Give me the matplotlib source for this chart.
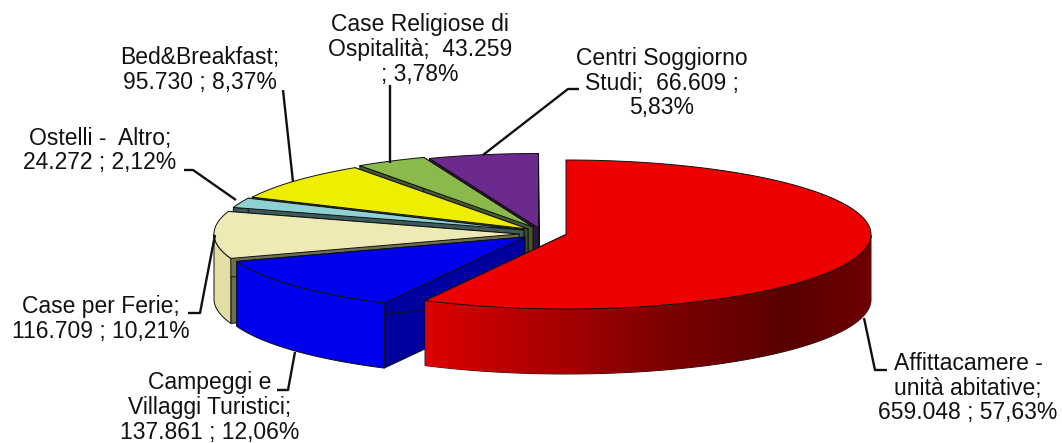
import numpy as np
import matplotlib
matplotlib.use("Agg")
import matplotlib.pyplot as plt
from matplotlib.patches import Polygon

plt.rcParams['font.family'] = ['Liberation Sans', 'DejaVu Sans']

# ---- data (clockwise from 12 o'clock) ----
categories = ["Affittacamere - unità abitative", "Campeggi e Villaggi Turistici", "Case per Ferie",
              "Ostelli - Altro", "Bed&Breakfast", "Case Religiose di Ospitalità", "Centri Soggiorno Studi"]
values = [659048, 137861, 116709, 24272, 95730, 43259, 66609]
label_texts = ["Affittacamere -\nunità abitative;\n659.048 ; 57,63%",
               "Campeggi e\nVillaggi Turistici;\n137.861 ; 12,06%",
               "Case per Ferie;\n116.709 ; 10,21%",
               "Ostelli -  Altro;\n24.272 ; 2,12%",
               "Bed&Breakfast;\n95.730 ; 8,37%",
               "Case Religiose di\nOspitalità;  43.259\n; 3,78%",
               "Centri Soggiorno\nStudi;  66.609 ;\n5,83%"]

# ---- style / layout ----
top_colors = ["#ee0000", "#0000ee", "#eeeab6", "#8fd0d2", "#eeee00", "#8cb94b", "#6c2a8e"]
side_colors = [None, "#0000ee", "#e2dea4", "#70a8aa", "#c0c000", "#70953c", "#4a1d62"]
wall_colors = ["#7a0000", "#00009e", "#6e6e50", "#3c5a5a", "#46501e", "#465a28", "#321446"]
centers = [(566, 234.5), (525, 237), (519, 234), (524, 230), (528, 229), (533, 227), (538.5, 228)]
RX, RY, DEPTH = 305, 74.5, 65
label_pos = [(968, 388), (210, 407.5), (101, 319), (100, 150.5), (200, 70), (420, 49.5), (662, 83)]
leaders = [[(864, 318), (875, 370), (887, 370)],
           [(295, 352), (288, 390), (277, 390)],
           [(215, 235), (200, 313), (188, 313)],
           [(236, 200), (193, 170), (184, 170)],
           [(293, 182), (283, 90)],
           [(390, 163), (390, 85)],
           [(483, 155), (568, 89), (579, 89)]]

fig = plt.figure(figsize=(10.62, 4.43), dpi=100)
ax = fig.add_axes([0, 0, 1, 1])
ax.set_xlim(0, 1062)
ax.set_ylim(443, 0)
ax.axis('off')

fractions = np.array(values) / np.sum(values)
edges = np.concatenate([[0], np.cumsum(fractions)]) * 2 * np.pi


def rim(c, t):
    return np.column_stack([c[0] + RX * np.sin(t), c[1] - RY * np.cos(t)])


EC = dict(edgecolor="#101010", linewidth=0.7, joinstyle='round')

# painter's order: back (purple) to front (red)
for i in [6, 5, 4, 3, 2, 1, 0]:
    c = centers[i]
    t = np.linspace(edges[i], edges[i + 1], 200)
    arc = rim(c, t)
    apex = np.array(c)
    down = np.array([0, DEPTH])
    z = 2 + (6 - i) * 0.1
    # radial walls
    for p in (arc[0], arc[-1]):
        ax.add_patch(Polygon([apex, p, p + down, apex + down], closed=True,
                             facecolor=wall_colors[i], zorder=z, **EC))
    # outer wall (lower half of the ellipse only)
    vis = (t >= np.pi / 2) & (t <= 3 * np.pi / 2)
    if vis.any():
        a = arc[vis]
        if i == 0:
            # horizontal shading on the large slice
            poly = Polygon(np.vstack([a, (a + down)[::-1]]), closed=True, facecolor='none',
                           zorder=z, **EC)
            ax.add_patch(poly)
            xs = np.linspace(a[:, 0].min(), a[:, 0].max(), 256)
            shade = np.interp(xs, [427, 500, 650, 790, 872], [222, 190, 130, 88, 110])
            img = np.zeros((1, 256, 3))
            img[0, :, 0] = shade / 255
            im = ax.imshow(img, extent=[xs[0], xs[-1], 443, 0], aspect='auto', zorder=z, interpolation='bilinear')
            im.set_clip_path(poly)
        else:
            ax.add_patch(Polygon(np.vstack([a, (a + down)[::-1]]), closed=True,
                                 facecolor=side_colors[i], zorder=z, **EC))
    # top surface
    ax.add_patch(Polygon(np.vstack([apex, arc]), closed=True, facecolor=top_colors[i], zorder=z + 0.05, **EC))

ax.set_xlim(0, 1062)
ax.set_ylim(443, 0)

for path in leaders:
    p = np.array(path)
    ax.plot(p[:, 0], p[:, 1], color='#111111', lw=1.7, zorder=5, solid_capstyle='butt')

for txt, (x, y) in zip(label_texts, label_pos):
    ax.text(x, y, txt, ha='center', va='center', fontsize=16.5, color='#111111',
            linespacing=1.1, zorder=6)

fig.savefig("out.png", dpi=100, facecolor='white')
